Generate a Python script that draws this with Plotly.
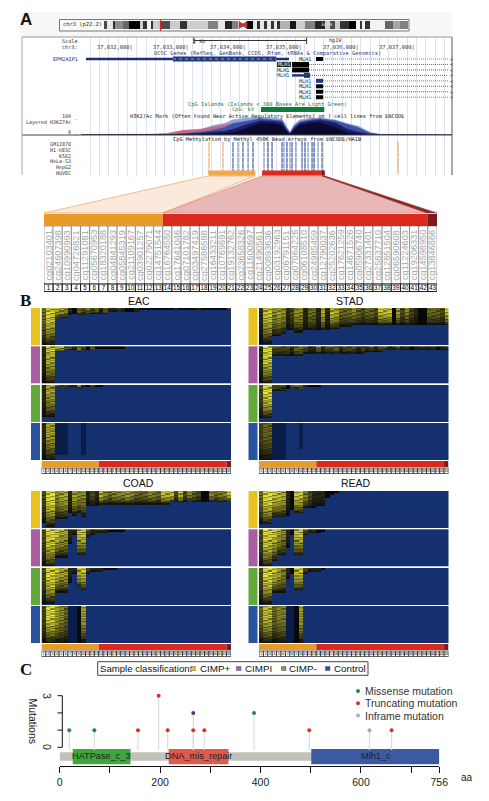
import plotly.graph_objects as go

W, H = 489, 801
# ---------- data ----------
ideo_edges = [0,2,5.9,7.2,12.4,16.3,23.5,25.4,28,30.6,31.9,36.5,43,49.5,54.1,67.8,74.3,78.8,83.4,87.3,93.2,97.1,99.7,101.6,104.2,106.2,108.8,110.7,112.7,114.7,121.2,125.1,130.9,137.5,144,147.2,150.5,153.7,159.6,164.2,166.8,168,170,173.3,183,188.3,192.8,198]
ideo_shade = [.7,.1,.8,.45,.6,1,.2,.8,.05,.8,.2,.7,.2,.8,.2,.5,.1,.85,.5,0,1,.1,.8,.1,.8,.1,.8,.1,.8,.3,.9,.2,.5,.85,.2,.7,.2,.8,1,.05,.8,.05,.8,.05,.6,.35,.5]
tick_bp = [37032000,37033000,37034000,37035000,37036000,37037000]
tick_lbl = ["37,032,000","37,033,000","37,034,000","37,035,000","37,036,000","37,037,000"]

epm_span = [37031173, 37034766]
epm_cds = [37032713, 37034536]
mlh1_exon_start = [37035244,37034820,37034820,37035032,37035244,37035244,37035244,37035244]
mlh1_exon_end = [37035368,37035120,37035120,37035138,37035368,37035368,37035368,37035368]
mlh1_utr_start = [None,None,None,37034820,None,None,None,None]
mlh1_color = ["#000000","#000000","#000000","#1f3a7a","#1f3a7a","#000000","#000000","#000000"]
mlh1_end = 37037581

sig_x = [37031085,37031775,37032306,37032607,37032890,37033191,37033421,37033634,37033775,37034023,37034253,37034466,37034643,37034713,37034784,37034855,37034961,37035138,37035315,37035581,37035793,37035988,37036112,37036200,37036377,37036731,37036997,37037262,37037651]
sig_blue = [2,2,3,6,20,28,50,62,80,90,92,88,85,50,15,55,80,88,90,80,60,48,30,15,4,3,2,2,1]
sig_pink = [3,3,4,8,25,30,42,55,60,55,40,20,10,5,2,5,10,20,25,20,15,8,5,3,2,1,1,1,0]
sig_mid = [1,1,1,2,8,15,25,40,60,75,85,80,75,40,10,45,70,80,85,75,55,40,22,10,2,1,1,1,0]
sig_navy = [0,0,0,1,4,8,15,20,30,55,75,72,65,30,5,35,62,72,78,65,30,15,10,4,1,0,0,0,0]
sig_dark = [0,0,0,0,1,2,5,8,12,35,60,60,50,20,2,25,50,60,65,40,10,5,3,1,0,0,0,0,0]

probe_bp = [37033351,37033598,37033775,37033864,37033952,37034041,37034129,37034324,37034395,37034466,37034643,37034678,37034731,37034784,37034820,37034890,37034997,37035050,37035103,37035174,37035209,37035280,37035351,37036696]
probe_kind = "ooabababaaabababaabaabao"
cell_lines = ["GM12878","H1-hESC","K562","HeLa-S3","HepG2","HUVEC"]
cpg_island = [37034270, 37035390]
region_bp = [37033340,37034170,37034290,37035345,37035400]

cg_names = "02103401 24607398 10990993 04726821 11291081 05670953 18320188 04841293 05845319 21109167 03901257 02279071 14751544 16764580 17641046 07101782 03497419 27586588 16433211 10769891 19132762 23658326 11600697 21490561 00893636 03192963 06791151 07064226 06108510 24985459 12790037 25202636 17621259 14671526 05906740 27331401 25837710 12851504 06590608 11224603 19206331 14598950 13846866".split()
columns = list(range(1, 44))
region_sizes = [13, 29, 1]
region_colors = ["#e89b28", "#d92a1e", "#7c1a20"]

# depth (base 36, rows of 20 that are not blue) and level (0 shade, 1 black .. 9 yellow) for each column
EAC = [("kkk6554344333 332222222111111 111111111111111","4876652143534 242232112111111 112111121111113"),
       ("kkk3322231221 111111","2776643253141 111111"),
       ("hhh1111121111 1","2664332252131 1"),
       ("kkkhhh000h","2660000000")]
STAD = [("jjjffeccddccc cccbbaaa9999999 999999999999999","2775652355244 262764445434437 771635321144437"),
        ("kkk5555555444 444444444443333 222222222222222","2883333244322 423342333232323 322322122222122"),
        ("iii3332122111 1","3883331444211 1"),
        ("kkkkkk000e","3440000000")]
COAD = [("hjjfffcdce888 777777777777777 766666666666666","3885662655232 754555654445547 773735431154557"),
        ("kkkfff83ee432 221111","3887662277322 221111"),
        ("jjjddd83ac322 2111","3887662277322 2111"),
        ("kkkkkkkkkk","3886540016")]
READ = [("iiieeedacc999 88421","4887762177532 22111"),
        ("kkkheea3ee322 21","3887652177322 11"),
        ("jjjddd63cc322 21","3887652177322 21"),
        ("kkkkkkkkkk","4774550016")]
row_texture = [1,.7,.95,.5,.88,1,.6,.82,.98,.45,.92,.72,1,.55,.85,.66,.97,.78,.42,.93,.7,1,.58,.8,.9,.5,.96,.68,.84,.6]
side_colors = ["#e8c320","#a85ea0","#63a83a","#2952a0"]

mut_aa = [19,69,156,197,215,266,266,288,387,497,617,661]
mut_n = [1,1,1,3,1,1,2,1,2,1,1,1]
mut_kind = ["m","m","t","t","t","t","p","t","m","t","i","t"]
kind_color = {"m":"#1f8a4c","t":"#d8332a","p":"#6a2a80","i":"#a8a8a8"}
dom_name = ["HATPase_c_3","DNA_mis_repair","Mlh1_c"]
dom_start = [26,217,501]
dom_end = [141,336,756]
dom_color = ["#3da63d","#e0584e","#3c5aa0"]
aa_ticks = [0,100,200,300,400,500,600,700,756]
aa_text = ["0","","200","","400","","600","","756"]

# ---------- helpers ----------
dx = lambda a, b: [a/W, b/W]
dy = lambda t, b: [1-b/H, 1-t/H]
px = lambda v: v/W
py = lambda v: 1-v/H
shapes, ann = [], []
fig = go.Figure()
layout = {}

def T(x, y, text, size=5.4, color="#333", anchor="left", font="DejaVu Sans Mono", angle=0, **kw):
    ann.append(dict(x=px(x), y=py(y), xref="paper", yref="paper", text=text, showarrow=False, xanchor=anchor,
                    yanchor="middle", font=dict(size=size, color=color, family=font), textangle=angle,
                    borderpad=0, **kw))

def R(x0, y0, x1, y1, fill, line=None, lw=0, layer="above"):
    shapes.append(dict(type="rect", xref="paper", yref="paper", x0=px(x0), x1=px(x1), y0=py(y0), y1=py(y1),
                       fillcolor=fill, line=dict(color=line or fill, width=lw), layer=layer))

def P(points, fill, line=None, lw=0.8):
    path = "M" + " L".join(f"{px(a):.5f},{py(b):.5f}" for a, b in points) + " Z"
    shapes.append(dict(type="path", xref="paper", yref="paper", path=path, fillcolor=fill,
                       line=dict(color=line or fill, width=lw), layer="above"))

def hidden(name, domain, rng, **kw):
    layout[name] = dict(domain=domain, range=rng, visible=False, fixedrange=True, **kw)

# ---------- panel A: ideogram ----------
R(20, 12, 452, 37, "#f7f7f7", layer="below")
hidden("xaxis8", dx(104, 408), [0, 198])
hidden("yaxis9", dy(21, 29), [0, 1])
layout["xaxis8"]["anchor"] = "y9"; layout["yaxis9"]["anchor"] = "x8"
fig.add_trace(go.Heatmap(x=ideo_edges, y=[0, 1], z=[ideo_shade], zmin=0, zmax=1, xaxis="x8", yaxis="y9",
                         colorscale=[[0, "#ffffff"], [1, "#000000"]], showscale=False, hoverinfo="skip"))
shapes.append(dict(type="rect", xref="paper", yref="paper", x0=px(59.5), x1=px(409), y0=py(19.5), y1=py(31),
                   line=dict(color="#777", width=1), fillcolor="rgba(0,0,0,0)"))
T(62, 25, "chr3 (p22.2)", 5.4, "#333")
T(326, 25, "3q24", 4.6, "#eee", "center")
P([(239, 21.5), (243, 24), (247, 21.5), (247, 28.5), (243, 26), (239, 28.5)], "#b8353a")
shapes.append(dict(type="line", xref="x8", yref="paper", x0=36.8, x1=36.8, y0=py(19.5), y1=py(31),
                   line=dict(color="#d8282c", width=1.2)))

# ---------- panel A: browser tracks ----------
G0, G1 = 37031085, 37037651
layout["xaxis"] = dict(domain=dx(81, 452), range=[G0, G1], visible=True, showticklabels=False, ticks="", showline=False,
                       zeroline=False, showgrid=True, gridcolor="#dde2f0", gridwidth=1, tick0=37031085, dtick=165, fixedrange=True, anchor="y")
hidden("yaxis", dy(37, 176), [176, 37], anchor="x")

def seg(xs, ys, color, width, dash=None):
    fig.add_trace(go.Scatter(x=xs, y=ys, mode="lines", line=dict(color=color, width=width, dash=dash), xaxis="x", yaxis="y",
                             hoverinfo="skip", showlegend=False))

seg(epm_span, [59, 59], "#1d2f6f", 2.4)
seg(epm_cds, [59, 59], "#233a80", 5)
seg(epm_cds, [59, 59], "#8ea0d0", 1, "dot")
ROW = lambda i: 59 + 5.46*i
for i in range(8):
    y = ROW(i)
    seg([mlh1_exon_end[i], mlh1_end], [y, y], "#5a6688" if i in (0, 4, 7) else "#444", 0.8, "1px,1px")
    if mlh1_utr_start[i]:
        seg([mlh1_utr_start[i], mlh1_exon_start[i]], [y, y], mlh1_color[i], 2.5)
    seg([mlh1_exon_start[i], mlh1_exon_end[i]], [y, y], mlh1_color[i], 4 if i in (0,4,5,6,7) else 5)
    T(448.5, y, "&lt;", 5, "#445", "left")
    c = "#1f3a7a" if mlh1_color[i] != "#000000" else "#222"
    if i == 1:
        R(277, y-2.6, 291, y+2.6, "#222")
        T(284, y, "MLH1", 5.2, "#eee", "center")
    elif i in (2, 3):
        T(291, y, "MLH1", 5.2, c, "right")
    else:
        T(313, y, "MLH1", 5.2, c, "right")

seg(cpg_island, [109.5, 109.5], "#0f7a3c", 5)
fig.add_trace(go.Scatter(x=[37033082, 37035078], y=[40.5, 40.5], mode="lines+markers", marker=dict(symbol="line-ns", size=5, line=dict(width=1, color="#333")),
                         line=dict(color="#333", width=1), hoverinfo="skip"))
for b, s in zip(tick_bp, tick_lbl):
    T(132.7 + (b-37032000)/17.7 + 1, 47, s + "|", 5.4, "#333", "right")

# H3K27Ac signal
hidden("yaxis2", dy(116, 135), [0, 100], anchor="x")
for vals, col in zip([sig_blue, sig_pink, sig_mid, sig_navy, sig_dark], ["#8ea2dc", "#c26a86", "#3d52a6", "#1b1b62", "#0a0a2e"]):
    fig.add_trace(go.Scatter(x=sig_x, y=vals, mode="lines", fill="tozeroy", fillcolor=col, line=dict(color=col, width=0.5),
                             xaxis="x", yaxis="y2", hoverinfo="skip"))
shapes.append(dict(type="line", xref="paper", yref="paper", x0=px(22), x1=px(452), y0=py(135), y1=py(135), line=dict(color="#444", width=1)))

# methylation probes
row_y = [142, 147.3, 152.6, 158, 163.3, 168.6]
for kind, col in zip("oab", ["#e09a50", "#1d3f8c", "#5a78b8"]):
    xs, ys = [], []
    for b, k in zip(probe_bp, probe_kind):
        if k == kind:
            for y in row_y:
                xs += [b, b, None]
                ys += [y, y+4.8, None]
    fig.add_trace(go.Scatter(x=xs, y=ys, mode="lines", line=dict(color=col, width=1), xaxis="x", yaxis="y", hoverinfo="skip"))
for i, name in enumerate(cell_lines):
    T(72, 144 + i*5.8, name, 5, "#333", "right")

for a, b, c in [(region_bp[0], region_bp[1], "#efa852"), (region_bp[2], region_bp[3], "#d92a1e"), (region_bp[3], region_bp[4], "#7c1a20")]:
    shapes.append(dict(type="rect", xref="x", yref="paper", x0=a, x1=b, y0=py(170.5), y1=py(175.8), fillcolor=c, line=dict(width=0)))

# frame
for x0, y0, x1, y1, c in [(22, 37, 452, 37, "#999"), (22, 37, 22, 175, "#aaa"), (452, 37, 452, 175, "#555")]:
    shapes.append(dict(type="line", xref="paper", yref="paper", x0=px(x0), x1=px(x1), y0=py(y0), y1=py(y1), line=dict(color=c, width=1)))

T(79, 40.5, "Scale", 5.2, "#333", "right"); T(79, 47, "chr3:", 5.2, "#333", "right")
T(207, 40.5, "2 kb", 5.2, "#333", "right"); T(328, 40.5, "hg19", 5.2, "#333")
T(267, 54, "UCSC Genes (RefSeq, GenBank, CCDS, Rfam, tRNAs &amp; Comparative Genomics)", 5.4, "#2a3a80", "center")
T(79, 59, "EPM2AIP1", 5.2, "#1d2f6f", "right")
T(267, 104.3, "CpG Islands (Islands &lt; 300 Bases Are Light Green)", 5.4, "#1f7a4a", "center")
T(255, 109.5, "CpG: 93", 5.2, "#1f7a4a", "right")
T(267, 116.3, "H3K27Ac Mark (Often Found Near Active Regulatory Elements) on 7 cell lines from ENCODE", 5.3, "#222", "center")
T(79, 116.5, "100 _", 5, "#333", "right"); T(72, 123, "Layered H3K27Ac", 5, "#333", "right"); T(79, 132.5, "0 _", 5, "#333", "right")
T(267, 139.3, "CpG Methylation by Methyl 450K Bead Arrays from ENCODE/HAIB", 5.3, "#222", "center")

# trapezoids
P([(208, 176), (255, 176), (163, 213), (44, 213)], "#fbeadb", "#eeb070")
P([(262, 176), (322, 176), (427, 213), (163, 213)], "#e8b8b8", "#e08a70")
P([(322, 176), (325, 176), (437, 213), (427, 213)], "#8c2a2a", "#8c2a2a", 0.4)

# strip of probes
hidden("xaxis2", dx(44, 437), [0.5, 43.5], anchor="y3")
hidden("yaxis3", dy(213, 292.5), [292.5, 213], anchor="x2")
def region_shapes(xr, yr, y0, y1):
    s = 0.5
    for n, c in zip(region_sizes, region_colors):
        shapes.append(dict(type="rect", xref=xr, yref=yr, x0=s, x1=s+n, y0=y0, y1=y1, fillcolor=c, line=dict(width=0)))
        s += n
region_shapes("x2", "y3", 214, 226)
for y0, h, lw in [(226, 58, 0.6), (284, 7.6, 1)]:
    fig.add_trace(go.Bar(x=columns, y=[h]*43, base=[y0]*43, width=1, marker=dict(color="#ffffff", line=dict(color="#666" if y0 == 226 else "#111", width=lw)),
                         xaxis="x2", yaxis="y3", hoverinfo="skip"))
fig.add_trace(go.Scatter(x=columns, y=[288]*43, text=[str(c) for c in columns], mode="text", textfont=dict(size=6.4, color="#000", family="Liberation Sans"),
                         xaxis="x2", yaxis="y3", hoverinfo="skip"))
for c, n in zip(columns, cg_names):
    T(44 + (c-0.5)*393/43, 255, "cg" + n, 9.2, "#a6a6a6", "center", "Liberation Sans", -90)

# ---------- panel B ----------
CS = [[0, "#14306f"], [.3, "#0c1c48"], [.5, "#09090c"], [.72, "#6f6e1e"], [1, "#e8e43a"]]
tops_a = [308, 346.3, 385, 423]
tops_b = [491, 529.3, 568, 606]
GH = 37
NR = 30
def group_matrix(depth, level, g):
    d = depth.replace(" ", "").ljust(43, "0")
    l = level.replace(" ", "").ljust(43, "0")
    assert len(d) == 43 and len(l) == 43
    z = []
    for r in range(NR):
        row = []
        for c in range(43):
            n, v = int(d[c], 36)*NR/20, int(l[c])
            if r >= n:
                row.append(0)
            elif v == 0:
                row.append(.3)
            else:
                row.append(min(1, .5 + .5*(v-1)/7*(1-(r/n)**2)*row_texture[(r+g*7+c%3) % NR]*1.1))
        z.append(row)
    return z

def panel(idx, data, name, x0, tops, title_x, title_y):
    xa, ya = f"x{idx}", f"y{idx+1}"
    x1 = x0 + 189.5
    bot = tops[3] + GH + 14
    hidden(f"xaxis{idx}", dx(x0, x1), [0.5, 43.5], anchor=ya)
    hidden(f"yaxis{idx+1}", dy(tops[0], bot), [bot, tops[0]], anchor=xa)
    for g, (t, (d, l)) in enumerate(zip(tops, data)):
        dyy = GH/NR
        fig.add_trace(go.Heatmap(z=group_matrix(d, l, g), x=columns, y=[t+(r+.5)*dyy for r in range(NR)], zmin=0, zmax=1, colorscale=CS,
                                 showscale=False, xaxis=xa, yaxis=ya, hoverinfo="skip"))
        R(x0-10.5, t, x0-1.5, t+GH, side_colors[g])
    sb = tops[3] + GH
    region_shapes(xa, ya, sb+1, sb+7)
    fig.add_trace(go.Bar(x=columns, y=[5.6]*43, base=[sb+8]*43, width=1, marker=dict(color="#f4f4f4", line=dict(color="#111", width=0.7)),
                         xaxis=xa, yaxis=ya, hoverinfo="skip"))
    fig.add_trace(go.Scatter(x=columns, y=[sb+11]*43, text=[str(c) for c in columns], mode="text", textfont=dict(size=3.4, color="#000", family="Liberation Sans"),
                             xaxis=xa, yaxis=ya, hoverinfo="skip"))
    T(title_x, title_y, name, 10.5, "#111", "center", "Liberation Sans")

panel(3, EAC, "EAC", 41.5, tops_a, 139, 301)
panel(4, STAD, "STAD", 259, tops_a, 350, 301)
panel(5, COAD, "COAD", 41.5, tops_b, 138, 483)
panel(6, READ, "READ", 259, tops_b, 356, 483)

# ---------- classification legend ----------
R(97.7, 661.7, 368, 675.3, "#ffffff", "#444", 1)
T(99, 668.7, "Sample classification:", 9.6, "#111", "left", "Liberation Sans")
for sx, tx, c, s in [(193, 198.5, "#e8c320", "CIMP+"), (238.7, 244, "#a85ea0", "CIMPI"), (283.7, 288, "#63a83a", "CIMP-"), (327.7, 332.5, "#2952a0", "Control")]:
    R(sx-2.3, 666.5, sx+2.3, 670.5, c, "#555", 0.5)
    T(tx, 668.7, s, 9.8, "#111", "left", "Liberation Sans")

# ---------- panel C ----------
layout["xaxis7"] = dict(domain=dx(59.7, 439.3), range=[0, 756], anchor="y8", tickvals=aa_ticks, ticktext=aa_text, ticks="outside", ticklen=6,
                        tickcolor="#111", linecolor="#111", showline=True, showgrid=False, zeroline=False, fixedrange=True,
                        tickfont=dict(size=10.5, family="Liberation Sans", color="#222"))
hidden("yaxis8", dy(690, 766.3), [-1.101, 3.334], anchor="x7")
for s in [dict(x0=0, x1=756, y0=-.29, y1=-.78, fillcolor="#c2c2ba")]:
    shapes.append(dict(type="rect", xref="x7", yref="y8", line=dict(width=0), layer="below", **s))
for a, b, c in zip(dom_start, dom_end, dom_color):
    shapes.append(dict(type="rect", xref="x7", yref="y8", x0=a, x1=b, y0=-.1, y1=-.98, fillcolor=c, line=dict(width=0), layer="below"))
xs, ys = [], []
for a, n in zip(mut_aa, mut_n):
    xs += [a, a, None]; ys += [-.15, n, None]
fig.add_trace(go.Scatter(x=xs, y=ys, mode="lines", line=dict(color="#dcdcdc", width=1.2), xaxis="x7", yaxis="y8", hoverinfo="skip"))
fig.add_trace(go.Scatter(x=mut_aa, y=mut_n, mode="markers", marker=dict(size=4, color=[kind_color[k] for k in mut_kind]), xaxis="x7", yaxis="y8", hoverinfo="skip"))
shapes.append(dict(type="path", xref="paper", yref="paper", line=dict(color="#111", width=1),
                   path=f"M{px(57.5)},{py(695.7)} L{px(62.3)},{py(695.7)} L{px(62.3)},{py(747.3)} L{px(57.5)},{py(747.3)} M{px(57.5)},{py(712.9)} L{px(62.3)},{py(712.9)} M{px(57.5)},{py(730.1)} L{px(62.3)},{py(730.1)}"))
T(47, 696, "3", 10.5, "#222", "center", "Liberation Sans", 90)
T(47, 747, "0", 10.5, "#222", "center", "Liberation Sans", 90)
T(33, 721.5, "Mutations", 10.5, "#222", "center", "Liberation Sans", 90)
for a, b, n in zip(dom_start, dom_end, dom_name):
    T(59.7 + (a+b)/2*380/756, 756.3, n, 9.2, "#222", "center", "Liberation Sans")
T(460, 777, "aa", 10, "#222", "left", "Liberation Sans")
for yy, col, txt in [(691, "#1f8a4c", "Missense mutation"), (703.2, "#d8332a", "Truncating mutation"), (715.5, "#b0b0b0", "Inframe mutation")]:
    shapes.append(dict(type="circle", xref="paper", yref="paper", x0=px(356), x1=px(360), y0=py(yy+2), y1=py(yy-2), fillcolor=col, line=dict(width=0)))
    T(363.5, yy, txt, 10.5, "#333", "left", "Liberation Sans")

T(19, 20, "<b>A</b>", 17, "#111", "left", "Liberation Sans")
T(19, 300, "<b>B</b>", 17, "#111", "left", "Liberation Serif")
T(19, 669, "<b>C</b>", 17, "#111", "left", "Liberation Serif")

fig.update_layout(width=W, height=H, margin=dict(l=0, r=0, t=0, b=0, autoexpand=False), autosize=False, showlegend=False, paper_bgcolor="#ffffff",
                  plot_bgcolor="rgba(0,0,0,0)", barmode="overlay", shapes=shapes, annotations=ann, **layout)
fig.write_html("out.html", config=dict(displayModeBar=False), post_script="document.body.style.margin='0';document.documentElement.style.overflow='hidden';")
